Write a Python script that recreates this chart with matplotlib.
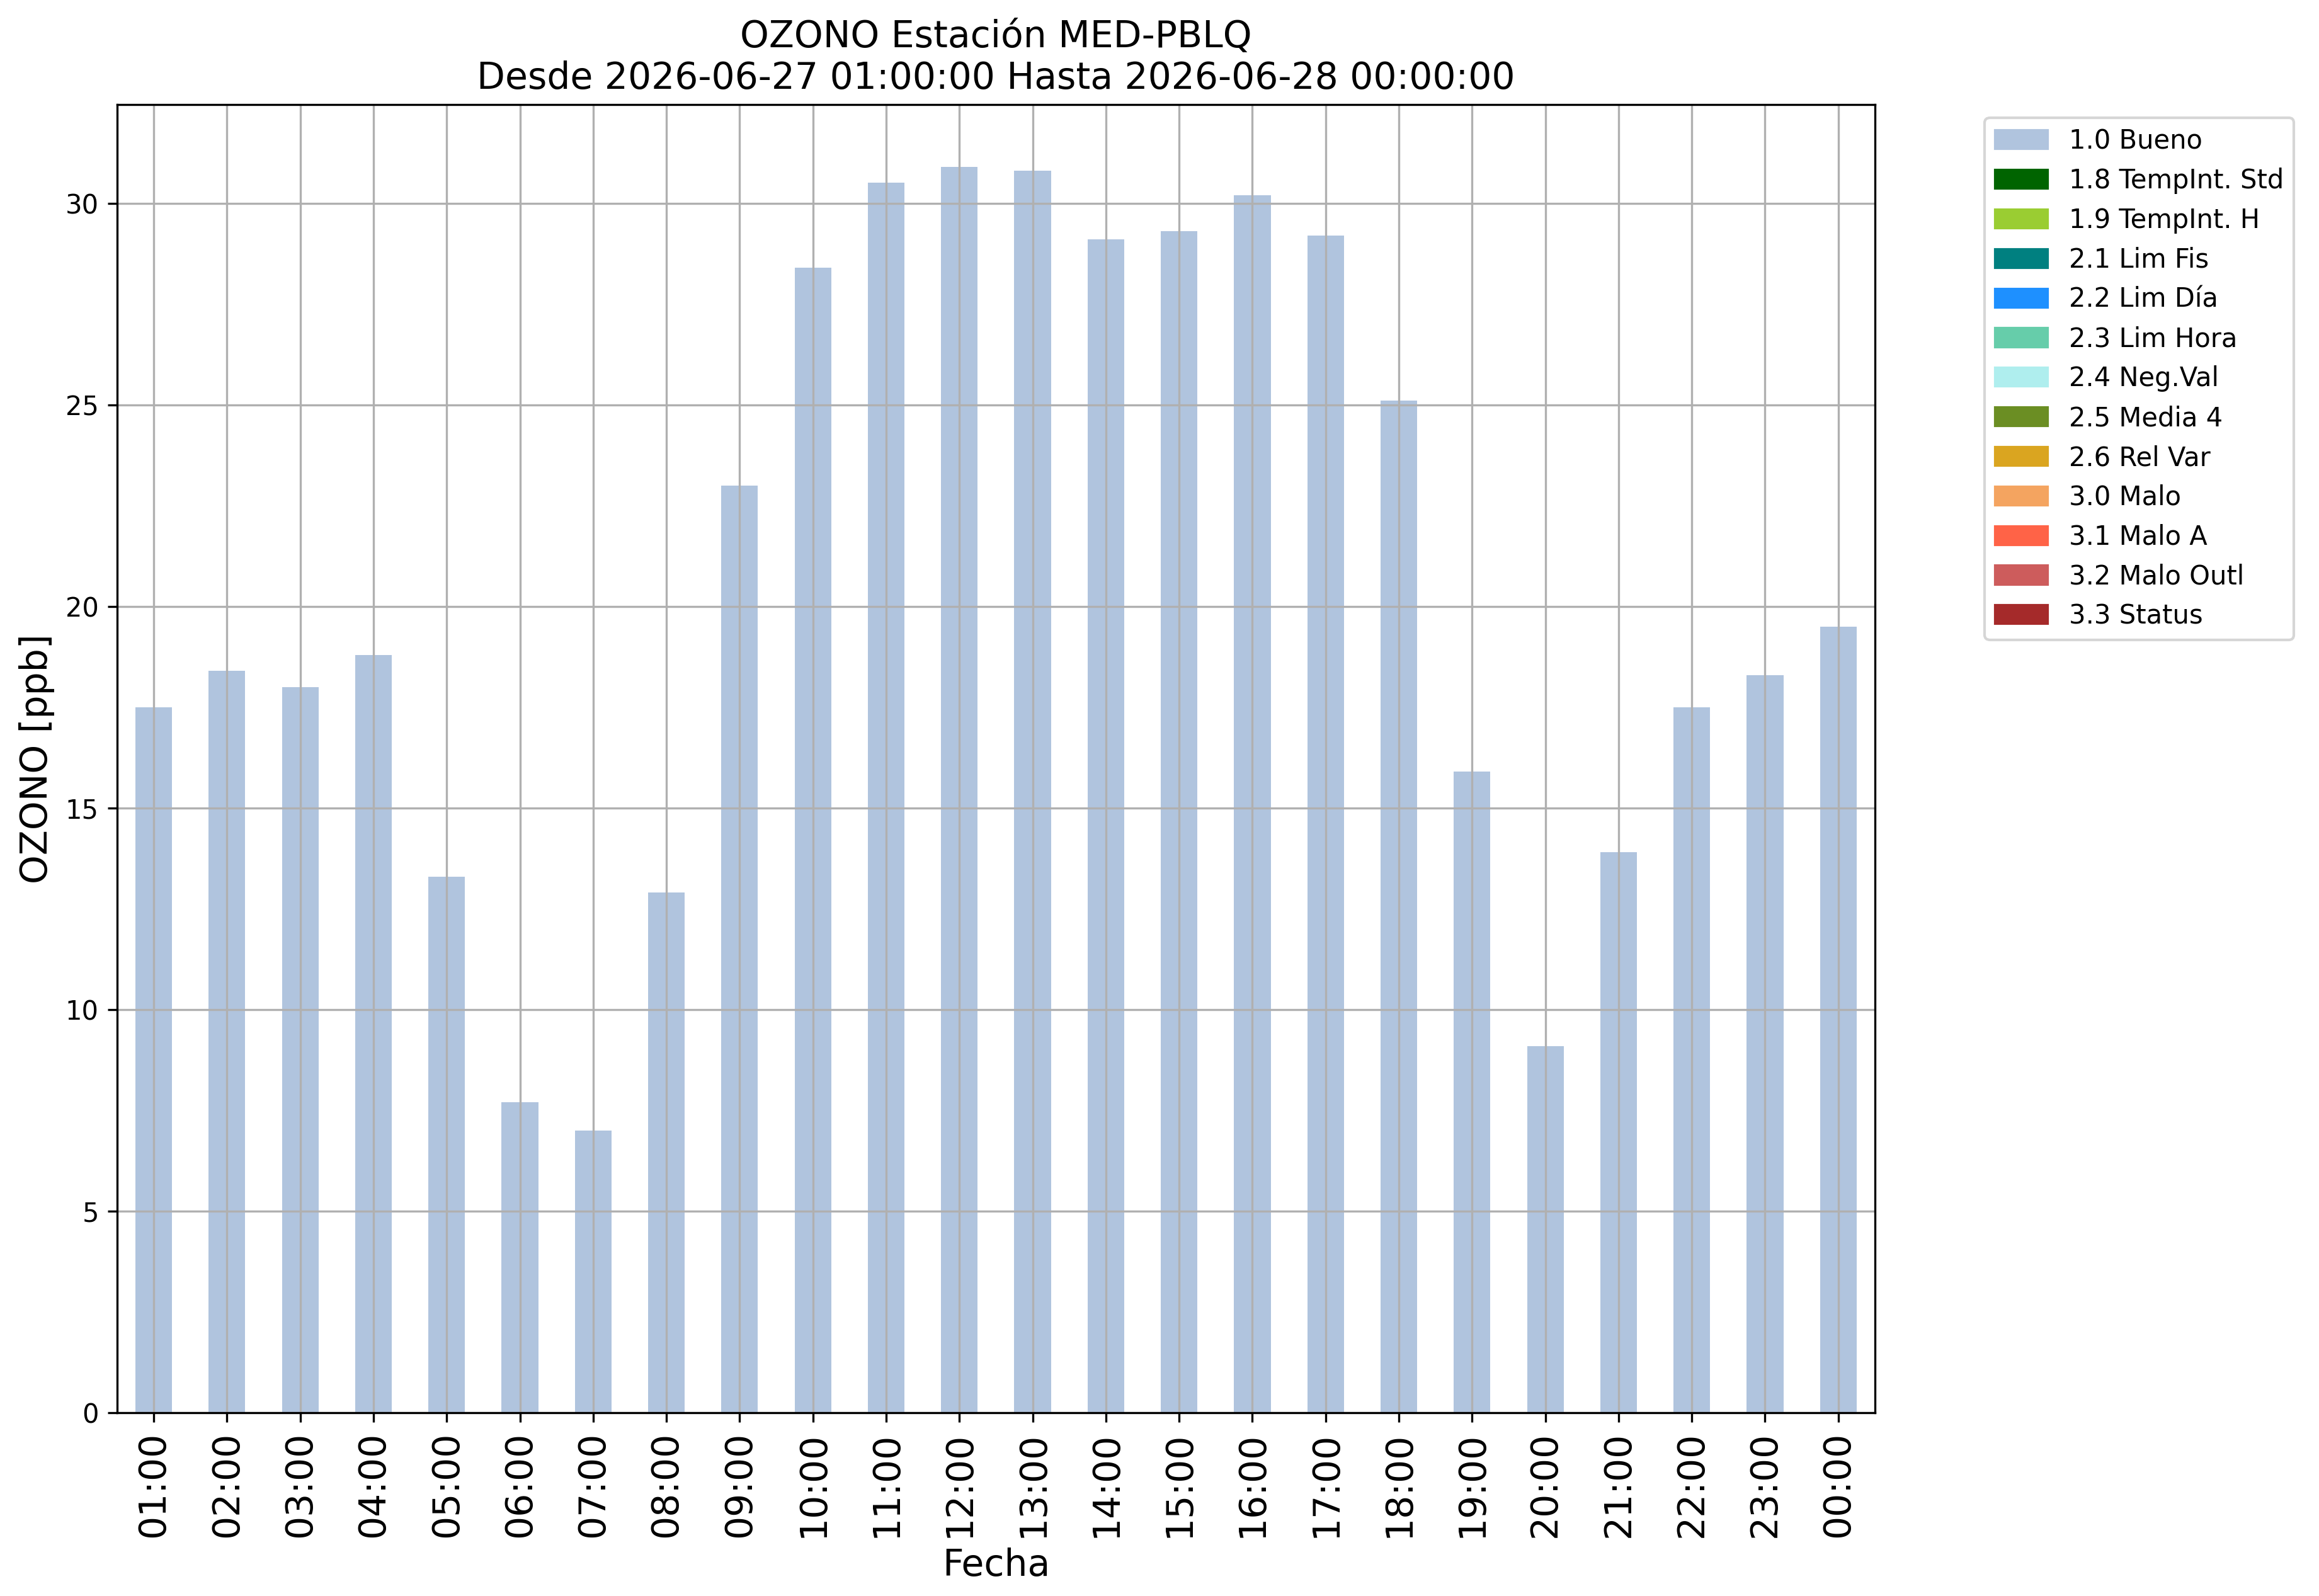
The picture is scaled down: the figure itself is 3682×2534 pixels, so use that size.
import matplotlib
matplotlib.use('Agg')
import matplotlib.pyplot as plt
from matplotlib.patches import Patch

# datos horarios de ozono
horas = ['01:00', '02:00', '03:00', '04:00', '05:00', '06:00', '07:00', '08:00',
         '09:00', '10:00', '11:00', '12:00', '13:00', '14:00', '15:00', '16:00',
         '17:00', '18:00', '19:00', '20:00', '21:00', '22:00', '23:00', '00:00']
ozono = [17.5, 18.4, 18.0, 18.8, 13.3, 7.7, 7.0, 12.9,
         23.0, 28.4, 30.5, 30.9, 30.8, 29.1, 29.3, 30.2,
         29.2, 25.1, 15.9, 9.1, 13.9, 17.5, 18.3, 19.5]

# banderas de calidad (leyenda)
flags = ['1.0 Bueno', '1.8 TempInt. Std', '1.9 TempInt. H', '2.1 Lim Fis',
         '2.2 Lim Día', '2.3 Lim Hora', '2.4 Neg.Val', '2.5 Media 4',
         '2.6 Rel Var', '3.0 Malo', '3.1 Malo A', '3.2 Malo Outl', '3.3 Status']
flag_colors = ['lightsteelblue', 'darkgreen', 'yellowgreen', 'teal',
               'dodgerblue', 'mediumaquamarine', 'paleturquoise', 'olivedrab',
               'goldenrod', 'sandybrown', 'tomato', 'indianred', 'brown']

fig = plt.figure(figsize=(3682 / 300, 2534 / 300), dpi=300)
ax = fig.add_subplot(111)
fig.subplots_adjust(left=0.0505, right=0.8085, bottom=0.1148, top=0.9345)

x = list(range(len(horas)))
ax.bar(x, ozono, width=0.5, color=flag_colors[0])
ax.set_xlim(-0.5, len(horas) - 0.5)
ax.set_xticks(x)
ax.set_xticklabels(horas, rotation=90, fontsize=14)
ax.tick_params(axis='y', labelsize=10)
ax.grid(True)

ax.set_xlabel('Fecha', fontsize=14)
ax.set_ylabel('OZONO [ppb]', fontsize=14)
ax.set_title('OZONO Estación MED-PBLQ\nDesde 2026-06-27 01:00:00 Hasta 2026-06-28 00:00:00',
             fontsize=14)

handles = [Patch(color=c, label=l) for l, c in zip(flags, flag_colors)]
ax.legend(handles=handles, bbox_to_anchor=(1.055, 1), loc='upper left', fontsize=10)

plt.savefig('out.png', dpi=300)
